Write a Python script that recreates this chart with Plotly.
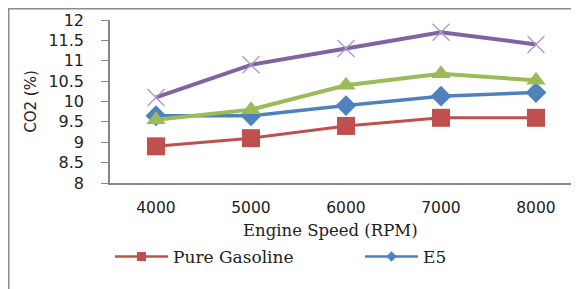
import plotly.graph_objects as go

rpm = [4000, 5000, 6000, 7000, 8000]
tick_labels = ["4000", "5000", "6000", "7000", "8000"]
pure_gasoline = [8.9, 9.1, 9.4, 9.6, 9.6]
e5 = [9.65, 9.65, 9.9, 10.13, 10.22]
e10 = [9.55, 9.8, 10.4, 10.68, 10.52]
e15 = [10.1, 10.9, 11.3, 11.7, 11.4]

RED = "#C0504D"
BLUE = "#4F81BD"
GREEN = "#9BBB59"
PURPLE = "#8064A2"
AXIS = "#868686"
TXT = "#222222"

fig = go.Figure()

series = [
    ("Pure Gasoline", pure_gasoline, RED, dict(symbol="square", size=18, color=RED, line=dict(width=0)), 3, "legend"),
    ("E5", e5, BLUE, dict(symbol="diamond", size=16, color=BLUE, line=dict(width=0)), 3.5, "legend2"),
    ("E10", e10, GREEN, dict(symbol="triangle-up", size=17, color=GREEN, line=dict(width=0)), 4, None),
    ("E15", e15, PURPLE, dict(symbol="x-thin", size=17, color="#A898C8", line=dict(width=1.3, color="#A898C8")), 4, None),
]

for name, vals, col, mk, lw, leg in series:
    fig.add_trace(go.Scatter(x=rpm, y=vals, mode="lines+markers", name=name,
                             line=dict(color=col, width=lw), marker=mk,
                             showlegend=False, legendgroup=name))
    if leg:
        small = dict(mk)
        small["size"] = 9 if mk["symbol"] == "square" else 8
        fig.add_trace(go.Scatter(x=[None], y=[None], mode="lines+markers", name=name,
                                 line=dict(color=col, width=2.5), marker=small,
                                 showlegend=True, legendgroup=name, legend=leg))

W, H = 579, 289
L, R, T, B = 102, 0, 12, 114
pw = W - L - R
ph = H - T - B
BOT = H - B  # pixel row of the x axis


def px(x):
    return (x - L) / pw


def py(y):
    return (BOT - y) / ph


def legend_at(x):
    return dict(orientation="h", x=px(x), xanchor="left", y=py(249), yanchor="middle",
                itemwidth=53,
                font=dict(family="DejaVu Serif", size=17, color=TXT),
                bgcolor="rgba(0,0,0,0)")


fig.update_layout(
    width=W, height=H,
    margin=dict(l=L, r=R, t=T, b=B, autoexpand=False),
    paper_bgcolor="white", plot_bgcolor="white",
    xaxis=dict(range=[3516, 8537], showgrid=False, zeroline=False, automargin=False,
               tickmode="array", tickvals=rpm, ticktext=tick_labels, ticks="",
               ticklabelstandoff=10,
               tickfont=dict(family="DejaVu Sans", size=15.5, color=TXT),
               showline=True, linecolor=AXIS, linewidth=1.5),
    yaxis=dict(range=[8, 12], dtick=0.5, showgrid=False, zeroline=False, automargin=False,
               showline=True, linecolor=AXIS, linewidth=1.5, ticks="outside", ticklen=7,
               tickcolor=AXIS, ticklabelstandoff=14,
               tickfont=dict(family="DejaVu Sans", size=16, color=TXT),
               title=dict(text="CO2 (%)", standoff=8,
                          font=dict(family="DejaVu Sans", size=15, color=TXT))),
    legend=legend_at(102),
    legend2=legend_at(352),
    annotations=[dict(text="Engine Speed (RPM)", xref="paper", yref="paper",
                      x=px(322), y=py(222.5), xanchor="center", yanchor="middle",
                      showarrow=False, font=dict(family="DejaVu Serif", size=16.5, color=TXT))],
    shapes=[dict(type="rect", xref="paper", yref="paper",
                 x0=px(0.5), x1=px(640), y0=py(400), y1=py(0.5),
                 line=dict(color="#8C8C8C", width=2), fillcolor="rgba(0,0,0,0)", layer="above")],
)

fig.write_html("out.html")
